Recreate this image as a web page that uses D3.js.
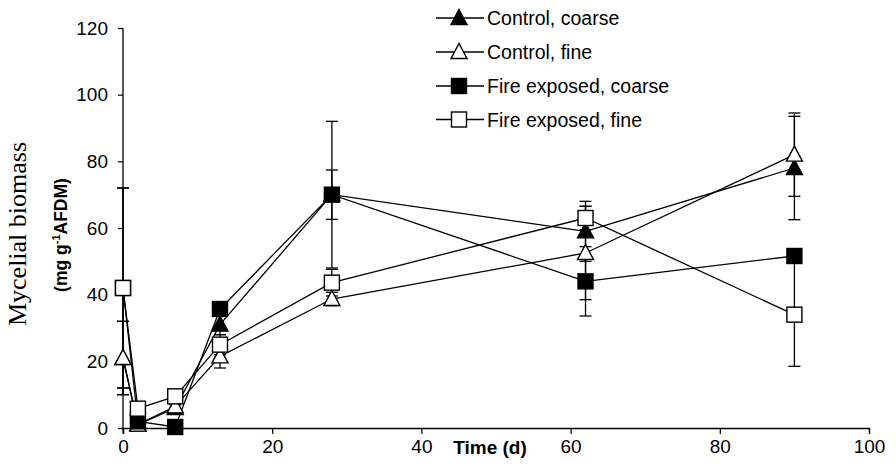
<!DOCTYPE html>
<html><head><meta charset="utf-8">
<script src="https://cdn.jsdelivr.net/npm/d3@7/dist/d3.min.js"></script>
<style>body{margin:0;background:#fff}svg{display:block}</style>
</head><body>
<script>
const times = [0, 2, 7, 13, 28, 62, 90];
const seriesNames = ["Control, coarse", "Control, fine", "Fire exposed, coarse", "Fire exposed, fine"];
const controlCoarse = [21, 1, 6, 31, 70, 59, 78];
const controlFine = [21, 1, 6.5, 21.5, 38.7, 52.5, 82];
const fireCoarse = [42, 2, 0.3, 35.7, 70, 44, 51.6];
const fireFine = [42, 5.8, 9.5, 25, 43.6, 63, 34];
const errControlCoarse = [11, 1, 1, 3, 7.4, 9, 15.5];
const errControlFine = [11, 1, 1, 3.5, 2, 14, 12.5];
const errFireCoarse = [30, 1, 0.5, 2, 22, 10.4, 1.5];
const errFireFine = [30, 1, 1, 3, 4, 3.5, 15.5];
const xTicks = [0, 20, 40, 60, 80, 100];
const yTicks = [0, 20, 40, 60, 80, 100, 120];

const series = [
  {name: seriesNames[0], vals: controlCoarse, err: errControlCoarse, shape: "tri", fill: "#000"},
  {name: seriesNames[1], vals: controlFine, err: errControlFine, shape: "tri", fill: "#fff"},
  {name: seriesNames[2], vals: fireCoarse, err: errFireCoarse, shape: "sq", fill: "#000"},
  {name: seriesNames[3], vals: fireFine, err: errFireFine, shape: "sq", fill: "#fff"}
];

const W = 896, H = 470;
const svg = d3.select("body").append("svg").attr("width", W).attr("height", H);
const x = d3.scaleLinear().domain([0, 100]).range([123, 869]);
const y = d3.scaleLinear().domain([0, 120]).range([428, 28]);
const font = "'Liberation Sans', Arial, sans-serif";

// axes
const gx = svg.append("g").attr("transform", `translate(0,${y(0)})`)
  .call(d3.axisBottom(x).tickValues(xTicks).tickSize(6).tickPadding(6).tickFormat(d3.format("d")));
const gy = svg.append("g").attr("transform", `translate(${x(0)},0)`)
  .call(d3.axisLeft(y).tickValues(yTicks).tickSize(5).tickPadding(10).tickFormat(d3.format("d")));
[gx, gy].forEach(g => {
  g.select(".domain").attr("stroke", "#000").attr("stroke-width", 1.3);
  g.selectAll(".tick line").attr("stroke", "#000").attr("stroke-width", 1.2);
  g.selectAll(".tick text").attr("font-family", font).attr("font-size", 19).attr("fill", "#000");
});
gy.select(".domain").attr("d", `M0,${y(120)}V${y(0) + 5}`);

// axis titles
svg.append("text").attr("x", 490).attr("y", 454).attr("text-anchor", "middle")
  .attr("font-family", font).attr("font-weight", "bold").attr("font-size", 19).text("Time (d)");
svg.append("text").attr("transform", "translate(26,234) rotate(-90)").attr("text-anchor", "middle")
  .attr("font-family", "'Liberation Serif', 'Times New Roman', serif").attr("font-size", 26).text("Mycelial biomass");
const t2 = svg.append("text").attr("transform", "translate(67,235) rotate(-90)").attr("text-anchor", "middle")
  .attr("font-family", font).attr("font-weight", "bold").attr("font-size", 17.5);
t2.append("tspan").text("(mg g");
t2.append("tspan").attr("dy", -7).attr("font-size", 11).text("-1");
t2.append("tspan").attr("dy", 7).text("AFDM)");

const line = d3.line().x((d, i) => x(times[i])).y(d => y(d));
const plot = svg.append("g");

// lines
series.forEach(s => {
  plot.append("path").attr("d", line(s.vals)).attr("fill", "none").attr("stroke", "#000").attr("stroke-width", 1.3);
});
// error bars
series.forEach(s => {
  s.vals.forEach((v, i) => {
    const cx = x(times[i]);
    const lo = y(Math.max(0, v - s.err[i])), hi = y(v + s.err[i]);
    plot.append("line").attr("x1", cx).attr("x2", cx).attr("y1", lo).attr("y2", hi).attr("stroke", "#000").attr("stroke-width", 1.3);
    [lo, hi].forEach(yy => plot.append("line").attr("x1", cx - 6).attr("x2", cx + 6).attr("y1", yy).attr("y2", yy).attr("stroke", "#000").attr("stroke-width", 1.3));
  });
});

function marker(g, shape, fill, cx, cy) {
  if (shape === "sq") {
    g.append("rect").attr("x", cx - 7.5).attr("y", cy - 7.5).attr("width", 15).attr("height", 15)
      .attr("fill", fill).attr("stroke", "#000").attr("stroke-width", 1.4);
  } else {
    g.append("path").attr("d", `M${cx},${cy - 8.5}L${cx + 8},${cy + 6.5}L${cx - 8},${cy + 6.5}Z`)
      .attr("fill", fill).attr("stroke", "#000").attr("stroke-width", 1.4);
  }
}
series.forEach(s => {
  s.vals.forEach((v, i) => marker(plot, s.shape, s.fill, x(times[i]), y(v)));
});

// legend
const legRows = [18, 52, 86, 119.5];
series.forEach((s, i) => {
  const ly = legRows[i];
  svg.append("line").attr("x1", 436).attr("x2", 484).attr("y1", ly).attr("y2", ly).attr("stroke", "#000").attr("stroke-width", 1.3);
  marker(svg, s.shape, s.fill, 459, ly);
  svg.append("text").attr("x", 487).attr("y", ly + 7).attr("font-family", font).attr("font-size", 19.5).text(s.name);
});
</script>
</body></html>
